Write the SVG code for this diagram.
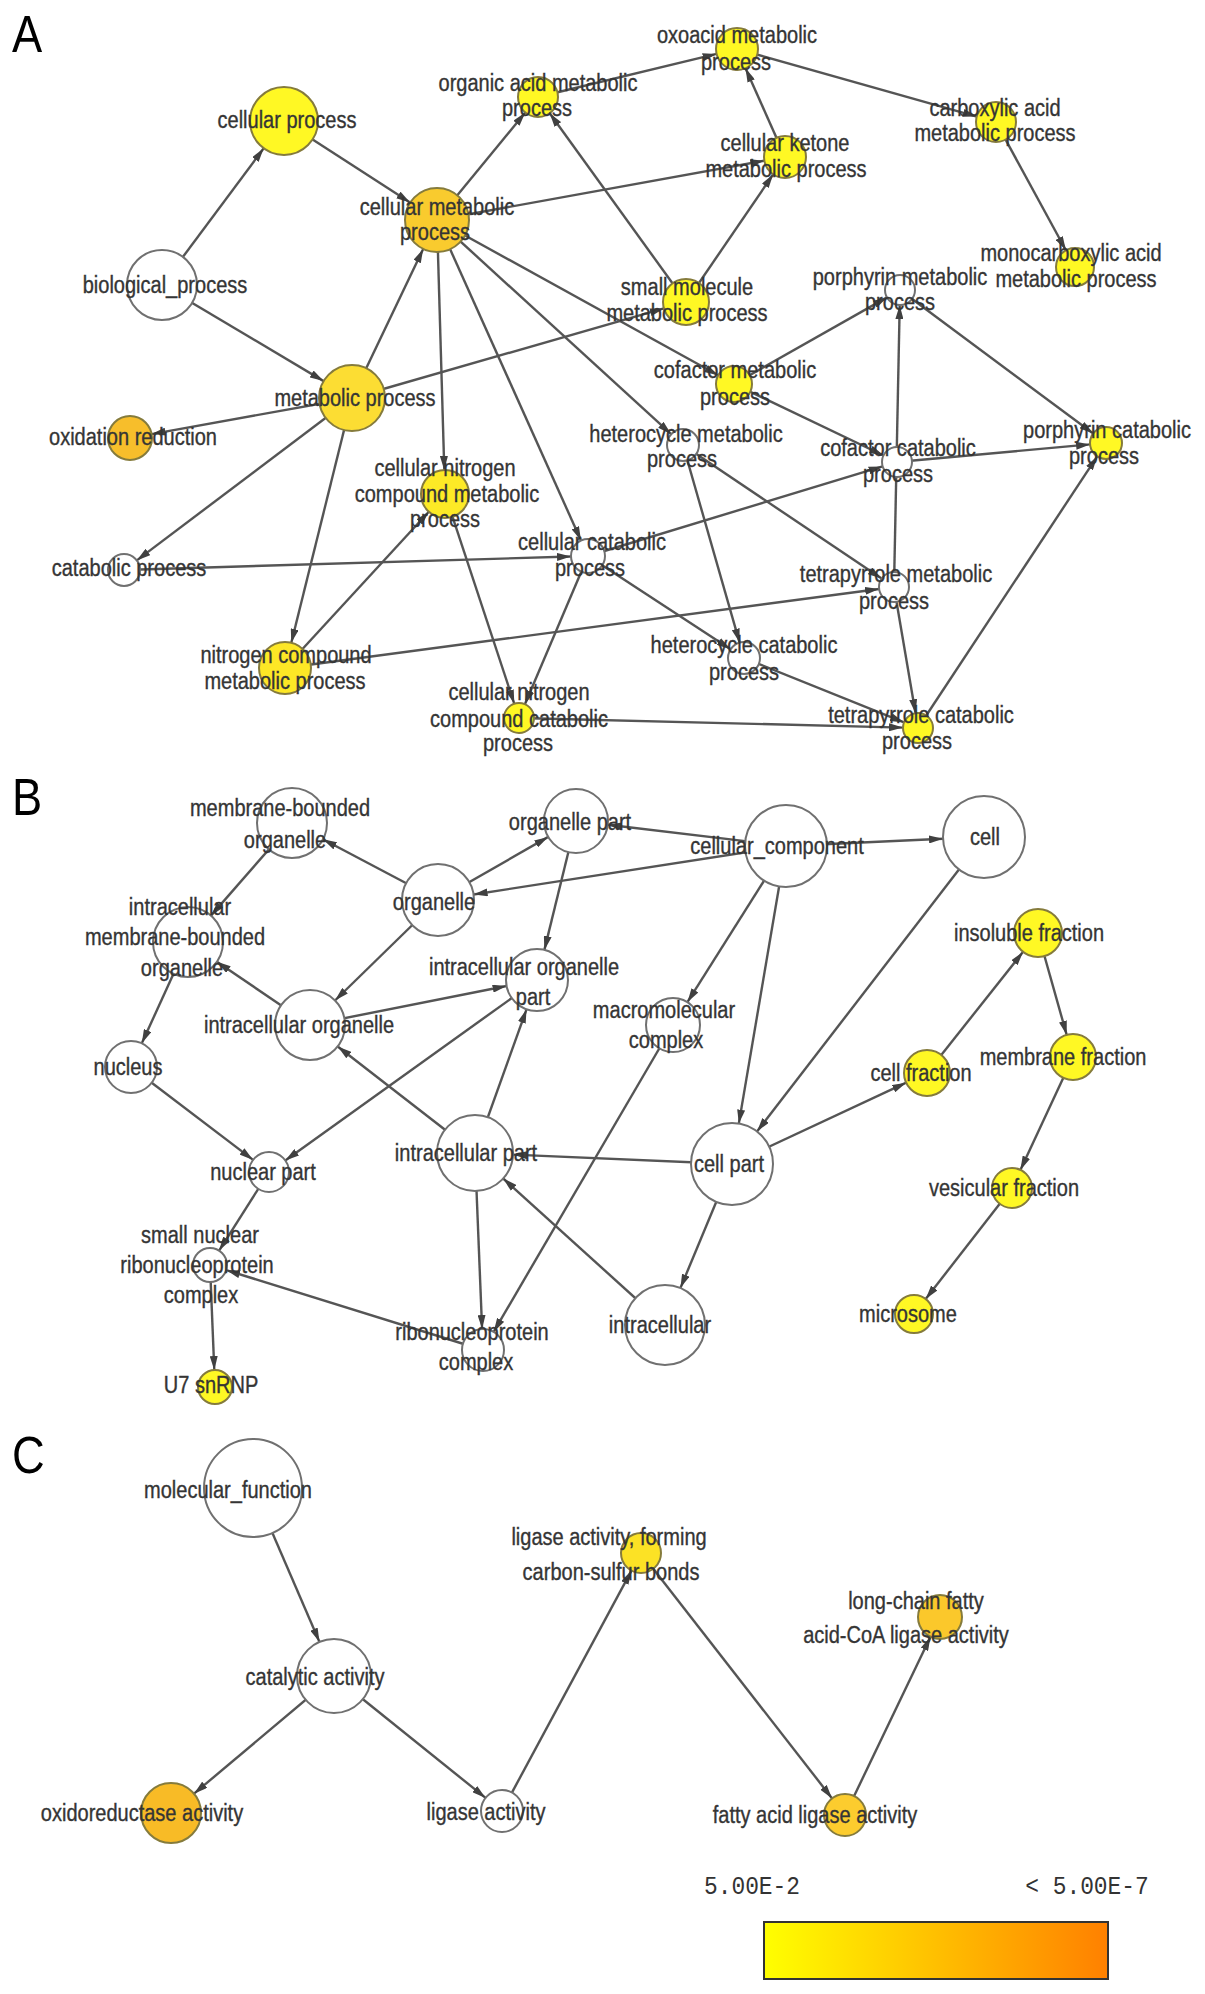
<svg xmlns="http://www.w3.org/2000/svg" width="1205" height="1994" viewBox="0 0 1205 1994">
<defs>
<marker id="arr" viewBox="0 0 14 8" refX="14" refY="4" markerWidth="14" markerHeight="8" orient="auto" markerUnits="userSpaceOnUse"><path d="M0,0 L14,4 L0,8 z" fill="#404040"/></marker>
<linearGradient id="grad" x1="0" y1="0" x2="1" y2="0"><stop offset="0" stop-color="#FFFF00"/><stop offset="1" stop-color="#FF8000"/></linearGradient>
</defs>
<style>
text{font-family:"Liberation Sans",Arial,sans-serif;font-size:23px;fill:#353535;stroke:#353535;stroke-width:0.35;text-anchor:middle}
.w{fill:#fff;stroke:#707070;stroke-width:2}
.y{stroke:#857b3c;stroke-width:2}
#edges line{stroke:#555;stroke-width:2.4;marker-end:url(#arr)}
.pl{font-size:52px;fill:#000;stroke:none;text-anchor:start}
.mono{font-family:"Liberation Mono","DejaVu Sans Mono",monospace;font-size:26px;fill:#333;stroke:none}
</style>
<rect width="1205" height="1994" fill="#fff"/>
<text class="pl" transform="translate(12,52) scale(.87,1)">A</text>
<text class="pl" transform="translate(12,815) scale(.87,1)">B</text>
<text class="pl" transform="translate(12,1473) scale(.87,1)">C</text>
<g id="edges">
<line x1="162" y1="285" x2="263.7" y2="148.3"/>
<line x1="162" y1="285" x2="323.6" y2="381.1"/>
<line x1="284" y1="121" x2="410.1" y2="202.6"/>
<line x1="352" y1="398" x2="423.2" y2="248.9"/>
<line x1="437" y1="220" x2="525.3" y2="112.5"/>
<line x1="686" y1="302" x2="549.7" y2="113.2"/>
<line x1="437" y1="220" x2="764.3" y2="160.7"/>
<line x1="785" y1="157" x2="745.5" y2="68.2"/>
<line x1="686" y1="302" x2="773.2" y2="174.3"/>
<line x1="538" y1="97" x2="716.6" y2="53.9"/>
<line x1="737" y1="49" x2="976.8" y2="116.6"/>
<line x1="996" y1="122" x2="1065.9" y2="250.3"/>
<line x1="352" y1="398" x2="663.9" y2="308.4"/>
<line x1="437" y1="220" x2="444.3" y2="470"/>
<line x1="437" y1="220" x2="581" y2="540.5"/>
<line x1="437" y1="220" x2="671.2" y2="434.2"/>
<line x1="437" y1="220" x2="718.2" y2="375.3"/>
<line x1="352" y1="398" x2="151.6" y2="434.1"/>
<line x1="352" y1="398" x2="136.8" y2="560.4"/>
<line x1="352" y1="398" x2="291.3" y2="642.8"/>
<line x1="285" y1="668" x2="428.8" y2="511.7"/>
<line x1="445" y1="494" x2="514.3" y2="703.8"/>
<line x1="588" y1="556" x2="524.9" y2="704.2"/>
<line x1="124" y1="570" x2="571" y2="556.5"/>
<line x1="285" y1="668" x2="879.1" y2="589"/>
<line x1="519" y1="718" x2="903" y2="727.6"/>
<line x1="588" y1="556" x2="730.6" y2="649.2"/>
<line x1="588" y1="556" x2="882.6" y2="466.4"/>
<line x1="734" y1="384" x2="883.5" y2="455.5"/>
<line x1="734" y1="384" x2="887" y2="297.4"/>
<line x1="900" y1="290" x2="1093.2" y2="433.5"/>
<line x1="894" y1="587" x2="899.7" y2="305"/>
<line x1="897" y1="462" x2="1090.1" y2="444.4"/>
<line x1="918" y1="728" x2="1097.2" y2="456.4"/>
<line x1="894" y1="587" x2="915.5" y2="713.2"/>
<line x1="683" y1="445" x2="739.6" y2="642.6"/>
<line x1="683" y1="445" x2="881.6" y2="578.6"/>
<line x1="744" y1="658" x2="904.1" y2="722.4"/>
<line x1="438" y1="900" x2="322.9" y2="839.3"/>
<line x1="438" y1="900" x2="548.2" y2="836.9"/>
<line x1="786" y1="846" x2="473.6" y2="894.5"/>
<line x1="786" y1="846" x2="607.8" y2="824.8"/>
<line x1="786" y1="846" x2="943" y2="838.8"/>
<line x1="786" y1="846" x2="687.4" y2="1002.2"/>
<line x1="786" y1="846" x2="738.8" y2="1123.6"/>
<line x1="984" y1="837" x2="757" y2="1131.5"/>
<line x1="292" y1="823" x2="211" y2="915.6"/>
<line x1="310" y1="1025" x2="216.9" y2="961.7"/>
<line x1="438" y1="900" x2="335" y2="1000.5"/>
<line x1="310" y1="1025" x2="506.6" y2="986"/>
<line x1="576" y1="821" x2="544.4" y2="949.9"/>
<line x1="188" y1="942" x2="141.8" y2="1043.3"/>
<line x1="131" y1="1067" x2="253.1" y2="1159.9"/>
<line x1="537" y1="980" x2="285.3" y2="1160.4"/>
<line x1="475" y1="1153" x2="337.7" y2="1046.5"/>
<line x1="475" y1="1153" x2="526.6" y2="1009.2"/>
<line x1="732" y1="1164" x2="513" y2="1154.6"/>
<line x1="665" y1="1325" x2="503.2" y2="1178.5"/>
<line x1="732" y1="1164" x2="680.4" y2="1288.1"/>
<line x1="732" y1="1164" x2="906.2" y2="1082.7"/>
<line x1="927" y1="1073" x2="1023.1" y2="951.8"/>
<line x1="1038" y1="933" x2="1066.7" y2="1034.9"/>
<line x1="1073" y1="1057" x2="1020.4" y2="1169.9"/>
<line x1="1012" y1="1188" x2="925.7" y2="1299"/>
<line x1="269" y1="1172" x2="219.1" y2="1250.6"/>
<line x1="483" y1="1350" x2="226.2" y2="1270.1"/>
<line x1="210" y1="1265" x2="214.3" y2="1370"/>
<line x1="475" y1="1153" x2="482.1" y2="1329"/>
<line x1="673" y1="1025" x2="493.6" y2="1331.9"/>
<line x1="253" y1="1488" x2="319.5" y2="1642"/>
<line x1="334" y1="1676" x2="194" y2="1793.7"/>
<line x1="334" y1="1676" x2="485.6" y2="1797.9"/>
<line x1="502" y1="1811" x2="631.5" y2="1570.6"/>
<line x1="641" y1="1553" x2="832.1" y2="1798.4"/>
<line x1="845" y1="1815" x2="930.5" y2="1636.8"/>
</g>
<g id="n-cellular-process"><circle cx="284" cy="121" r="34" class="y" fill="#FFF824"/><text transform="translate(287,128) scale(.87,1)">cellular process</text></g>
<g id="n-biological-process"><circle cx="162" cy="285" r="35" class="w"/><text transform="translate(165,293) scale(.87,1)">biological_process</text></g>
<g id="n-cellular-metabolic"><circle cx="437" cy="220" r="32" class="y" fill="#F9CB2E"/><text transform="translate(437,215) scale(.87,1)">cellular metabolic</text><text transform="translate(435,240) scale(.87,1)">process</text></g>
<g id="n-metabolic-process"><circle cx="352" cy="398" r="33" class="y" fill="#FCDD33"/><text transform="translate(355,406) scale(.87,1)">metabolic process</text></g>
<g id="n-oxidation-reduction"><circle cx="130" cy="438" r="22" class="y" fill="#F7BE2B"/><text transform="translate(133,445) scale(.87,1)">oxidation reduction</text></g>
<g id="n-catabolic-process"><circle cx="124" cy="570" r="16" class="w"/><text transform="translate(129,576) scale(.87,1)">catabolic process</text></g>
<g id="n-nitrogen-compound-metabolic"><circle cx="285" cy="668" r="26" class="y" fill="#FDE726"/><text transform="translate(286,663) scale(.87,1)">nitrogen compound</text><text transform="translate(285,689) scale(.87,1)">metabolic process</text></g>
<g id="n-cellular-nitrogen-compound-metabolic"><circle cx="445" cy="494" r="24" class="y" fill="#FDEA26"/><text transform="translate(445,476) scale(.87,1)">cellular nitrogen</text><text transform="translate(447,502) scale(.87,1)">compound metabolic</text><text transform="translate(445,527) scale(.87,1)">process</text></g>
<g id="n-cellular-nitrogen-compound-catabolic"><circle cx="519" cy="718" r="15" class="y" fill="#FFF824"/><text transform="translate(519,700) scale(.87,1)">cellular nitrogen</text><text transform="translate(519,727) scale(.87,1)">compound catabolic</text><text transform="translate(518,751) scale(.87,1)">process</text></g>
<g id="n-organic-acid-metabolic"><circle cx="538" cy="97" r="20" class="y" fill="#FFF824"/><text transform="translate(538,91) scale(.87,1)">organic acid metabolic</text><text transform="translate(537,116) scale(.87,1)">process</text></g>
<g id="n-oxoacid-metabolic"><circle cx="737" cy="49" r="21" class="y" fill="#FFF824"/><text transform="translate(737,43) scale(.87,1)">oxoacid metabolic</text><text transform="translate(736,70) scale(.87,1)">process</text></g>
<g id="n-cellular-ketone-metabolic"><circle cx="785" cy="157" r="21" class="y" fill="#FFF824"/><text transform="translate(785,151) scale(.87,1)">cellular ketone</text><text transform="translate(786,177) scale(.87,1)">metabolic process</text></g>
<g id="n-carboxylic-acid-metabolic"><circle cx="996" cy="122" r="20" class="y" fill="#FFF824"/><text transform="translate(995,116) scale(.87,1)">carboxylic acid</text><text transform="translate(995,141) scale(.87,1)">metabolic process</text></g>
<g id="n-monocarboxylic-acid-metabolic"><circle cx="1075" cy="267" r="19" class="y" fill="#FFF824"/><text transform="translate(1071,261) scale(.87,1)">monocarboxylic acid</text><text transform="translate(1076,287) scale(.87,1)">metabolic process</text></g>
<g id="n-small-molecule-metabolic"><circle cx="686" cy="302" r="23" class="y" fill="#FFF824"/><text transform="translate(687,295) scale(.87,1)">small molecule</text><text transform="translate(687,321) scale(.87,1)">metabolic process</text></g>
<g id="n-porphyrin-metabolic"><circle cx="900" cy="290" r="15" class="w"/><text transform="translate(900,285) scale(.87,1)">porphyrin metabolic</text><text transform="translate(900,310) scale(.87,1)">process</text></g>
<g id="n-cofactor-metabolic"><circle cx="734" cy="384" r="18" class="y" fill="#FFF824"/><text transform="translate(735,378) scale(.87,1)">cofactor metabolic</text><text transform="translate(735,405) scale(.87,1)">process</text></g>
<g id="n-heterocycle-metabolic"><circle cx="683" cy="445" r="16" class="w"/><text transform="translate(686,442) scale(.87,1)">heterocycle metabolic</text><text transform="translate(682,467) scale(.87,1)">process</text></g>
<g id="n-cofactor-catabolic"><circle cx="897" cy="462" r="15" class="w"/><text transform="translate(898,456) scale(.87,1)">cofactor catabolic</text><text transform="translate(898,482) scale(.87,1)">process</text></g>
<g id="n-porphyrin-catabolic"><circle cx="1106" cy="443" r="16" class="y" fill="#FFF824"/><text transform="translate(1107,438) scale(.87,1)">porphyrin catabolic</text><text transform="translate(1104,464) scale(.87,1)">process</text></g>
<g id="n-cellular-catabolic"><circle cx="588" cy="556" r="17" class="w"/><text transform="translate(592,550) scale(.87,1)">cellular catabolic</text><text transform="translate(590,576) scale(.87,1)">process</text></g>
<g id="n-tetrapyrrole-metabolic"><circle cx="894" cy="587" r="15" class="w"/><text transform="translate(896,582) scale(.87,1)">tetrapyrrole metabolic</text><text transform="translate(894,609) scale(.87,1)">process</text></g>
<g id="n-heterocycle-catabolic"><circle cx="744" cy="658" r="16" class="w"/><text transform="translate(744,653) scale(.87,1)">heterocycle catabolic</text><text transform="translate(744,680) scale(.87,1)">process</text></g>
<g id="n-tetrapyrrole-catabolic"><circle cx="918" cy="728" r="15" class="y" fill="#FFF824"/><text transform="translate(921,723) scale(.87,1)">tetrapyrrole catabolic</text><text transform="translate(917,749) scale(.87,1)">process</text></g>
<g id="n-cellular-component"><circle cx="786" cy="846" r="41" class="w"/><text transform="translate(777,854) scale(.87,1)">cellular_component</text></g>
<g id="n-cell"><circle cx="984" cy="837" r="41" class="w"/><text transform="translate(985,845) scale(.87,1)">cell</text></g>
<g id="n-organelle-part"><circle cx="576" cy="821" r="32" class="w"/><text transform="translate(570,830) scale(.87,1)">organelle part</text></g>
<g id="n-organelle"><circle cx="438" cy="900" r="36" class="w"/><text transform="translate(434,910) scale(.87,1)">organelle</text></g>
<g id="n-membrane-bounded-organelle"><circle cx="292" cy="823" r="35" class="w"/><text transform="translate(280,816) scale(.87,1)">membrane-bounded</text><text transform="translate(285,848) scale(.87,1)">organelle</text></g>
<g id="n-intracellular-membrane-bounded-organelle"><circle cx="188" cy="942" r="35" class="w"/><text transform="translate(180,915) scale(.87,1)">intracellular</text><text transform="translate(175,945) scale(.87,1)">membrane-bounded</text><text transform="translate(182,976) scale(.87,1)">organelle</text></g>
<g id="n-intracellular-organelle"><circle cx="310" cy="1025" r="35" class="w"/><text transform="translate(299,1033) scale(.87,1)">intracellular organelle</text></g>
<g id="n-intracellular-organelle-part"><circle cx="537" cy="980" r="31" class="w"/><text transform="translate(524,975) scale(.87,1)">intracellular organelle</text><text transform="translate(533,1005) scale(.87,1)">part</text></g>
<g id="n-nucleus"><circle cx="131" cy="1067" r="26" class="w"/><text transform="translate(128,1075) scale(.87,1)">nucleus</text></g>
<g id="n-macromolecular-complex"><circle cx="673" cy="1025" r="27" class="w"/><text transform="translate(664,1018) scale(.87,1)">macromolecular</text><text transform="translate(666,1048) scale(.87,1)">complex</text></g>
<g id="n-insoluble-fraction"><circle cx="1038" cy="933" r="24" class="y" fill="#FFF824"/><text transform="translate(1029,941) scale(.87,1)">insoluble fraction</text></g>
<g id="n-membrane-fraction"><circle cx="1073" cy="1057" r="23" class="y" fill="#FFF824"/><text transform="translate(1063,1065) scale(.87,1)">membrane fraction</text></g>
<g id="n-cell-fraction"><circle cx="927" cy="1073" r="23" class="y" fill="#FFF824"/><text transform="translate(921,1081) scale(.87,1)">cell fraction</text></g>
<g id="n-nuclear-part"><circle cx="269" cy="1172" r="20" class="w"/><text transform="translate(263,1180) scale(.87,1)">nuclear part</text></g>
<g id="n-intracellular-part"><circle cx="475" cy="1153" r="38" class="w"/><text transform="translate(466,1161) scale(.87,1)">intracellular part</text></g>
<g id="n-small-nuclear-rnp-complex"><circle cx="210" cy="1265" r="17" class="w"/><text transform="translate(200,1243) scale(.87,1)">small nuclear</text><text transform="translate(197,1273) scale(.87,1)">ribonucleoprotein</text><text transform="translate(201,1303) scale(.87,1)">complex</text></g>
<g id="n-u7-snrnp"><circle cx="215" cy="1387" r="17" class="y" fill="#FFF824"/><text transform="translate(211,1393) scale(.87,1)">U7 snRNP</text></g>
<g id="n-ribonucleoprotein-complex"><circle cx="483" cy="1350" r="21" class="w"/><text transform="translate(472,1340) scale(.87,1)">ribonucleoprotein</text><text transform="translate(476,1370) scale(.87,1)">complex</text></g>
<g id="n-cell-part"><circle cx="732" cy="1164" r="41" class="w"/><text transform="translate(729,1172) scale(.87,1)">cell part</text></g>
<g id="n-intracellular"><circle cx="665" cy="1325" r="40" class="w"/><text transform="translate(660,1333) scale(.87,1)">intracellular</text></g>
<g id="n-vesicular-fraction"><circle cx="1012" cy="1188" r="20" class="y" fill="#FFF824"/><text transform="translate(1004,1196) scale(.87,1)">vesicular fraction</text></g>
<g id="n-microsome"><circle cx="914" cy="1314" r="19" class="y" fill="#FFF824"/><text transform="translate(908,1322) scale(.87,1)">microsome</text></g>
<g id="n-molecular-function"><circle cx="253" cy="1488" r="49" class="w"/><text transform="translate(228,1498) scale(.87,1)">molecular_function</text></g>
<g id="n-catalytic-activity"><circle cx="334" cy="1676" r="37" class="w"/><text transform="translate(315,1685) scale(.87,1)">catalytic activity</text></g>
<g id="n-ligase-activity-cs"><circle cx="641" cy="1553" r="20" class="y" fill="#FCE225"/><text transform="translate(609,1545) scale(.87,1)">ligase activity, forming</text><text transform="translate(611,1580) scale(.87,1)">carbon-sulfur bonds</text></g>
<g id="n-long-chain-fatty-acid-coa-ligase"><circle cx="940" cy="1617" r="22" class="y" fill="#FBC82B"/><text transform="translate(916,1609) scale(.87,1)">long-chain fatty</text><text transform="translate(906,1643) scale(.87,1)">acid-CoA ligase activity</text></g>
<g id="n-oxidoreductase-activity"><circle cx="171" cy="1813" r="30" class="y" fill="#F8BB26"/><text transform="translate(142,1821) scale(.87,1)">oxidoreductase activity</text></g>
<g id="n-ligase-activity"><circle cx="502" cy="1811" r="21" class="w"/><text transform="translate(486,1820) scale(.87,1)">ligase activity</text></g>
<g id="n-fatty-acid-ligase-activity"><circle cx="845" cy="1815" r="21" class="y" fill="#FCCC2E"/><text transform="translate(815,1823) scale(.87,1)">fatty acid ligase activity</text></g>
<g id="legend">
<text class="mono" transform="translate(752,1894) scale(.88,1)">5.00E-2</text>
<text class="mono" transform="translate(1087,1894) scale(.88,1)">&lt; 5.00E-7</text>
<rect x="764" y="1922" width="344" height="57" fill="url(#grad)" stroke="#333" stroke-width="2"/>
</g>
</svg>
